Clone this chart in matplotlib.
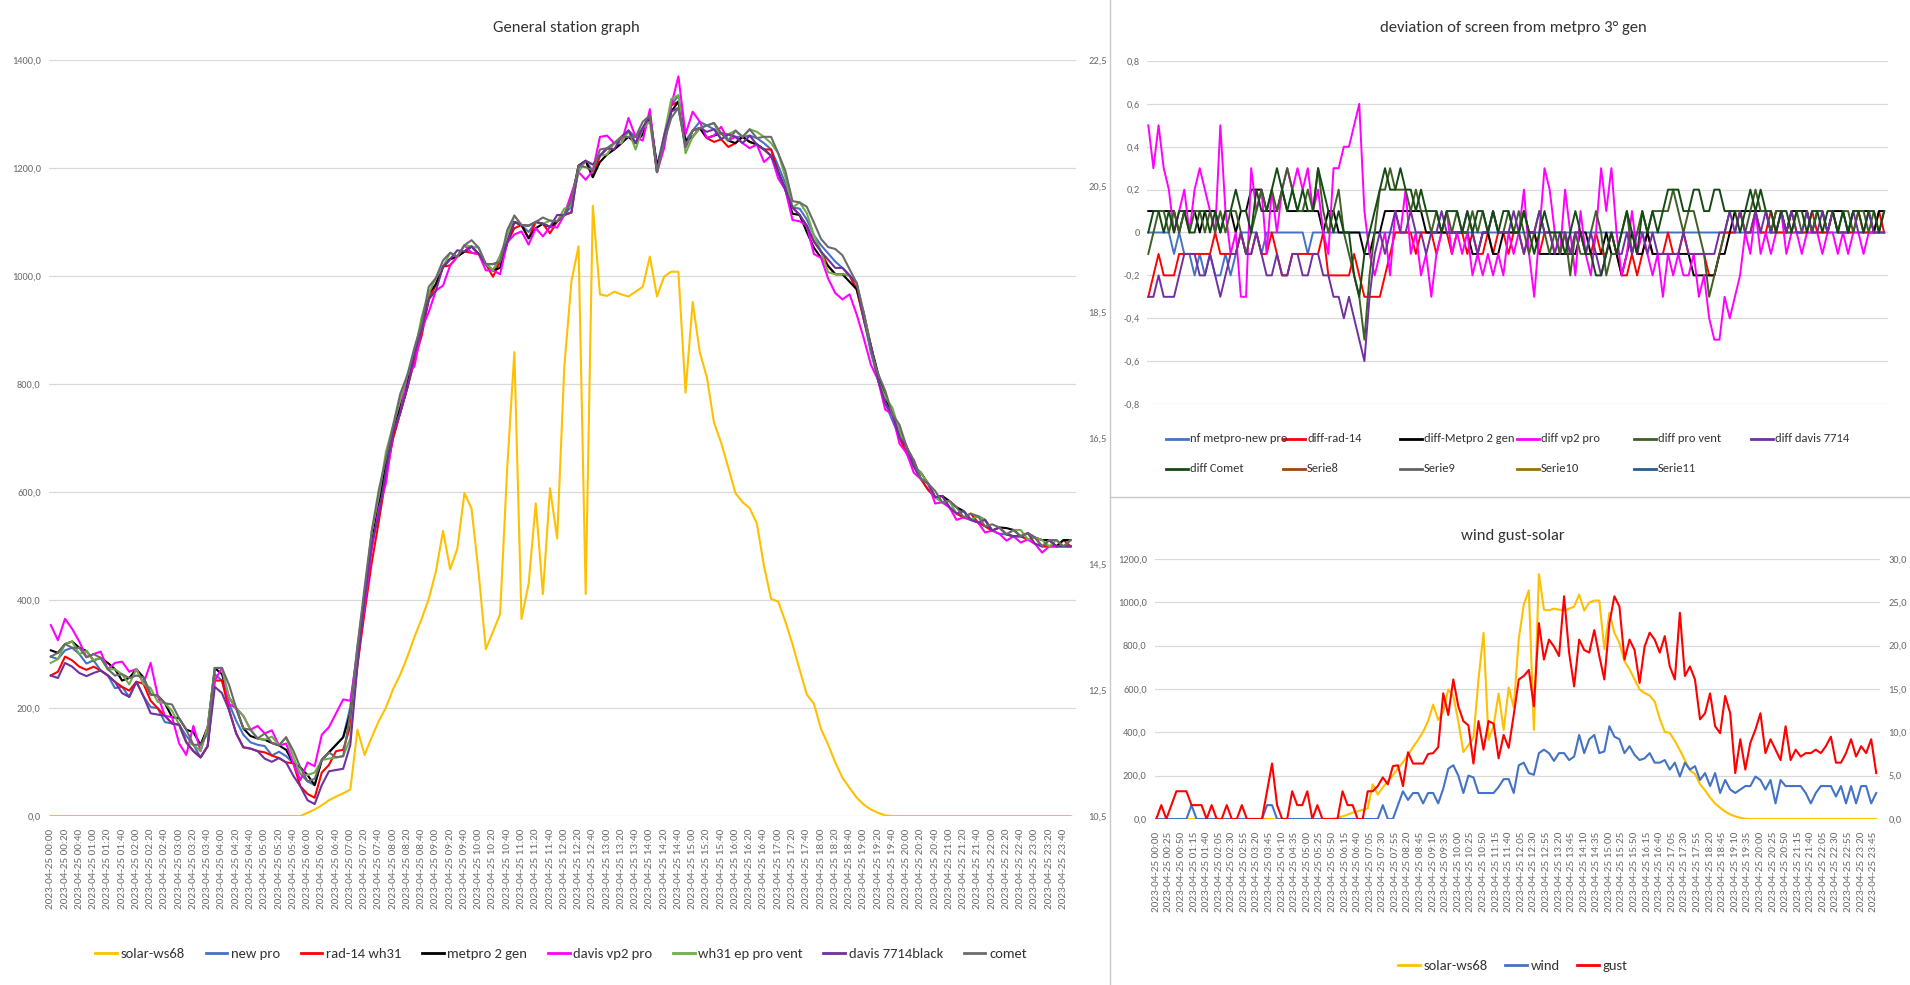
import matplotlib
matplotlib.use("Agg")
import matplotlib.pyplot as plt
import numpy as np
import pandas as pd
from matplotlib.lines import Line2D

plt.rcParams['font.family'] = ['Carlito', 'PT Sans Narrow', 'DejaVu Sans']

# 5-minute category axis, readings taken every 10 minutes
times = list(pd.date_range("2023-04-25 00:00", periods=288, freq="5min").strftime("%Y-%m-%d %H:%M"))
pos = np.arange(0, 288, 2)

# reference temperature (metpro 3 gen), degC
t_ref = [13.03, 12.99, 13.13, 13.17, 13.07, 13.02, 12.97, 12.91, 12.83, 12.73,
         12.65, 12.59, 12.73, 12.60, 12.43, 12.31, 12.19, 12.07, 11.95, 11.77,
         11.63, 11.43, 11.71, 12.75, 12.65, 12.28, 12.01, 11.79, 11.67, 11.63,
         11.61, 11.56, 11.52, 11.45, 11.34, 11.17, 11.05, 10.99, 11.39, 11.51,
         11.63, 11.75, 12.23, 13.19, 14.03, 14.82, 15.38, 15.98,
         16.50, 16.90, 17.30, 17.74, 18.22, 18.70, 18.94, 19.22, 19.34, 19.38,
         19.46, 19.54, 19.42, 19.26, 19.16, 19.30, 19.70, 19.93, 19.88, 19.77,
         19.93, 19.90, 19.85, 19.94, 20.04, 20.18, 20.82, 20.90, 20.74, 20.98,
         21.10, 21.18, 21.28, 21.38, 21.28, 21.42, 21.62, 20.82, 21.30, 21.78,
         21.94, 21.22, 21.38, 21.52, 21.46, 21.40, 21.34, 21.32,
         21.28, 21.28, 21.30, 21.26, 21.18, 21.08, 20.82, 20.54, 20.16, 20.14,
         19.97, 19.72, 19.56, 19.43, 19.30, 19.20, 19.08, 18.86, 18.38, 17.86,
         17.42, 17.05, 16.78, 16.51, 16.26, 16.05, 15.85, 15.68, 15.56, 15.48,
         15.40, 15.30, 15.24, 15.20, 15.16, 15.10, 15.03, 14.98, 14.97, 14.94,
         14.94, 14.89, 14.82, 14.78, 14.78, 14.78, 14.78, 14.78]

# deviations from reference, tenths of degC
dev_newpro = [0, 0, 0, 0, 0, -1, 0, -1, -1, -2,
              -1, -2, -1, -2, -2, -1, -2, -1, 0, 0,
              0, 0, -1, 0, 0, 0, 0, 0, 0, 0,
              0, -1, 0, 0, 0, 0, 0, 0, 0, 0,
              0, 0, 0, 0, 0, 0, 0, 0, 0, 0,
              0, 0, 0, 0, 0, 0, 0, 0, 0, 0,
              0, 0, 0, 0, 0, 0, 0, 0, 0, 0,
              0, 0, 0, 0, 0, 0, 0, 0, 0, 0,
              0, 0, 0, 0, 0, 0, 0, 0, 0, 0,
              0, 0, 0, 0, 0, 0, 0, 0, 0, 0,
              0, 0, 0, 0, 0, 0, 0, 0, 0, 0,
              0, 0, 0, 0, 0, 0, 0, 0, 0, 0,
              0, 0, 0, 0, 0, 0, 0, 0, 0, 0,
              0, 0, 0, 0, 0, 0, 0, 0, 0, 0,
              0, 0, 0, 0]
dev_rad14 = [-3, -2, -1, -2, -2, -2, -1, -1, -1, -1,
             -1, -1, -1, 0, -1, -1, -1, -1, 0, -1,
             -1, 0, -1, -1, 0, -1, -2, -2, -1, -1,
             -1, -1, -1, -1, 0, -2, -2, -2, -2, -2,
             -1, -2, -3, -3, -3, -3, -2, -1, 0, 0,
             0, 0, -1, 0, 0, 0, -1, 0, 0, -1,
             0, 0, -1, 0, -1, -1, 0, -1, 0, 0,
             -1, 0, 0, -1, 0, 0, -1, 0, 0, -1,
             -1, 0, -1, 0, 0, -1, -1, 0, -1, -1,
             0, -1, -2, -2, -1, -2, -1, 0, -1, -1,
             -1, 0, -1, -1, 0, -1, -1, -1, -1, -2,
             -2, -1, 0, 0, 0, 1, 0, 0, 1, 0,
             0, 1, 0, 0, 0, 1, 0, 0, 0, 1,
             0, 0, 0, 1, 0, 0, 0, 0, 1, 0,
             0, 0, 1, 0]
dev_metpro2 = [1, 1, 1, 1, 1, 1, 0, 1, 1, 1,
               0, 1, 1, 1, 0, 1, 1, 0, 1, 1,
               2, 2, 2, 1, 1, 1, 2, 1, 1, 1,
               1, 1, 1, 1, 0, 1, 1, 0, 0, 0,
               0, 0, -1, -1, 0, 0, 1, 1, 1, 1,
               1, 1, 1, 1, 0, 0, 0, 0, 0, 0,
               0, 0, 0, -1, -1, 0, 0, -1, -1, 0,
               0, 0, 0, 1, 0, 0, -1, -1, -1, -1,
               -1, -1, -1, -1, 0, 0, -1, -1, -1, 0,
               -1, -1, -2, -1, 0, -1, -1, 0, -1, -1,
               -1, -1, -1, -1, -1, -1, -2, -2, -2, -2,
               -2, -1, -1, 0, 1, 1, 1, 1, 1, 1,
               1, 0, 1, 1, 0, 1, 1, 1, 1, 0,
               1, 1, 0, 1, 1, 1, 0, 1, 1, 1,
               1, 0, 1, 1]
dev_vp2 = [5, 3, 5, 3, 2, 0, 1, 2, 0, 2,
           3, 2, 1, 0, 5, 1, -1, 0, -3, -3,
           3, 1, 2, -1, 2, 0, 2, 3, 2, 3,
           2, 3, 1, 2, 0, -1, 3, 3, 4, 4,
           5, 6, 1, -1, -2, -1, 0, -2, 1, 0,
           2, -1, 0, -2, -1, -3, -1, 0, 1, -1,
           0, -1, 0, -2, -1, -2, -1, -2, -1, -2,
           0, -1, 0, 2, -1, -3, 0, 3, 2, 0,
           -1, 2, 0, -2, 1, -1, -2, 0, 3, 1,
           3, 0, -2, -1, 1, -1, 0, -1, -2, -1,
           -3, -1, -2, -1, -2, -2, -1, -3, -2, -4,
           -5, -5, -3, -4, -3, -2, 0, -1, 1, -1,
           0, -1, 0, 1, -1, 0, 0, -1, 0, 0,
           0, -1, 0, 0, -1, 0, -1, 0, 0, -1,
           0, 0, 0, 0]
dev_provent = [-1, 0, 1, 1, 0, 1, 0, 1, 0, 1,
               1, 0, 1, 0, 1, 0, 1, 1, 0, -1,
               0, 1, 2, 1, 2, 1, 2, 3, 2, 1,
               1, 2, 1, 3, 1, 0, 1, 2, 0, -1,
               -2, -3, -5, -2, 0, 2, 2, 3, 2, 2,
               2, 1, 2, 1, 1, 0, 1, 0, 1, 0,
               1, 0, 0, 1, 0, 1, 0, 1, 0, 0,
               1, 0, 1, 0, -1, 0, 1, 0, -1, 0,
               -1, 0, -2, 0, -1, -1, 0, 1, 0, -2,
               -1, -1, 0, 1, -1, 0, 1, 0, 1, 1,
               1, 1, 2, 1, 0, 1, 1, 0, -1, -3,
               -2, -1, 0, 1, 1, 1, 0, 1, 2, 1,
               1, 0, 1, 1, 0, 0, 1, 0, 1, 0,
               1, 1, 0, 1, 0, 1, 1, 0, 1, 1,
               0, 1, 0, 1]
dev_7714 = [-3, -3, -2, -3, -3, -3, -2, -1, -1, -1,
            -2, -2, -1, -2, -3, -2, -1, -1, 0, -1,
            -1, 0, -1, -2, -2, -1, -2, -2, -1, -1,
            -2, -2, -1, -1, -2, -2, -3, -3, -4, -3,
            -4, -5, -6, -3, -1, 0, -1, 0, 1, 0,
            0, 1, 0, 0, -1, 0, 0, 1, 0, 0,
            0, 0, 1, 0, -1, 0, 0, 1, 0, 0,
            0, 1, 0, -1, 0, 0, 1, 0, 0, -1,
            0, 0, -1, 0, 0, -1, 0, -1, -2, -1,
            0, -1, -1, 0, -1, 0, 0, -1, 0, -1,
            -1, -1, -1, -1, 0, -1, -1, -1, -1, -1,
            -1, 0, 0, 1, 0, 1, 0, 0, 1, 0,
            1, 0, 0, 1, 0, 1, 0, 0, 1, 0,
            0, 1, 0, 1, 0, 0, 0, 1, 0, 0,
            1, 0, 0, 0]
dev_comet = [0, 1, 1, 0, 1, 0, 1, 1, 0, 0,
             1, 1, 0, 1, 0, 1, 1, 2, 1, 1,
             0, 2, 1, 1, 2, 3, 2, 1, 2, 1,
             2, 1, 1, 3, 2, 1, 0, 1, 0, 0,
             -2, -3, -1, 0, 1, 2, 3, 2, 2, 3,
             2, 2, 1, 2, 1, 1, 1, 0, 1, 1,
             1, 0, 1, 0, 1, 1, 0, 1, 0, 1,
             1, 0, 0, 1, 0, -1, 0, 1, 0, 0,
             0, -1, 0, 1, 0, -1, -1, -2, -2, -1,
             0, -1, 0, 1, 0, -1, 1, 0, 1, 0,
             1, 2, 2, 2, 1, 1, 2, 2, 1, 1,
             2, 2, 1, 1, 1, 0, 1, 2, 1, 2,
             1, 1, 0, 1, 1, 0, 1, 1, 0, 1,
             1, 0, 1, 1, 0, 1, 0, 1, 1, 0,
             1, 1, 0, 1]

# solar radiation W/m2
solar = [0, 0, 0, 0, 0, 0, 0, 0, 0, 0,
         0, 0, 0, 0, 0, 0, 0, 0, 0, 0,
         0, 0, 0, 0, 0, 0, 0, 0, 0, 0,
         0, 0, 0, 0, 0, 0,
         6, 12, 20, 29, 36, 42, 49, 160, 113, 146, 176, 201,
         235, 262, 295, 332, 365, 402, 453, 528, 457, 495,
         598, 569, 449, 309, 341, 374, 645, 859, 365, 430,
         579, 411, 607, 514, 831, 990, 1055, 411, 1130, 966,
         963, 971, 966, 962, 971, 980, 1036, 962, 999, 1008,
         1008, 784, 952, 859, 812, 728, 691, 645,
         598, 581, 570, 542, 463, 402, 397, 360, 318, 271,
         225, 208, 161, 132, 99, 71, 52, 34, 21, 12,
         6, 1,
         0, 0, 0, 0, 0, 0, 0, 0, 0, 0,
         0, 0, 0, 0, 0, 0, 0, 0, 0, 0,
         0, 0, 0, 0, 0, 0]

wind = [0, 0, 0, 0, 0, 0, 0, 1.6, 0, 0,
        0, 0, 0, 0, 0, 0, 0, 0, 0, 0,
        0, 0, 1.6, 1.6, 0, 0, 0, 0, 0, 0,
        0, 0, 0, 0, 0, 0, 0, 0, 0, 0,
        0, 0, 0, 0, 0, 1.6, 0, 0,
        1.6, 3.2, 2.2, 3.0, 3.0, 1.8, 3.0, 3.0, 1.8, 3.5,
        5.8, 6.2, 5.0, 3.0, 5.0, 4.8, 3.0, 3.0, 3.0, 3.0,
        3.7, 4.6, 4.6, 3.0, 6.2,
        6.5, 5.3, 5.1, 7.6, 8.0, 7.6, 6.7,
        7.6, 7.6, 6.8, 7.2, 9.7, 7.6, 9.2, 9.7, 7.6, 7.8,
        10.7, 9.5, 9.2, 7.6, 8.4, 7.4, 6.8, 7.0, 7.6, 6.5,
        6.5, 6.8, 5.7, 6.5, 4.9, 6.5, 5.7, 6.1, 4.5, 5.3,
        3.8, 5.3, 3.0, 4.5, 3.4, 3.0, 3.4, 3.8, 3.8, 4.9,
        4.5, 3.4, 4.5, 1.8, 4.5, 3.8, 3.8, 3.8, 3.8, 3.0,
        1.8, 3.0, 3.8, 3.8, 3.8, 2.6, 3.8, 1.8, 3.8, 1.8,
        3.8, 3.8, 1.8, 3.0]

gust = [0, 1.6, 0, 1.6, 3.2, 3.2, 3.2, 1.6, 1.6, 1.6,
        0, 1.6, 0, 0, 1.6, 0, 0, 1.6, 0, 0,
        0, 0, 3.2, 6.4, 1.6, 0, 0, 3.2, 1.6, 1.6,
        3.2, 0, 1.6, 0, 0, 0, 0, 3.2, 1.6, 1.6,
        0, 0, 3.2, 3.2, 3.8, 4.8, 4.0, 6.1, 6.2, 3.8,
        7.7, 6.4, 6.4, 6.4, 7.5, 7.6, 8.3, 14.5, 12.0, 16.1,
        13.0, 11.3, 10.8, 6.4, 11.3, 8.0, 11.3, 11.0, 7.0, 9.7,
        8.2, 12.0, 16.1,
        16.5, 17.2, 13.0, 22.6, 18.4, 20.7, 19.9,
        18.8, 25.7, 19.2, 15.3, 20.7, 19.5, 19.2, 21.8, 18.8, 16.1,
        22.6, 25.7, 24.5, 18.4, 20.7, 19.5, 15.7, 19.9, 21.5, 20.7,
        19.2, 21.1, 17.6, 16.1, 23.8, 16.5, 17.6, 16.1, 11.5, 12.2,
        14.5, 10.7, 9.9, 14.2, 12.2, 5.3, 9.2, 5.7, 8.8, 10.3,
        12.2, 7.6, 9.2, 8.0, 6.8, 10.7, 6.8, 8.0, 7.2, 7.6,
        7.6, 8.0, 7.6, 8.4, 9.5, 6.5, 6.5, 7.6, 9.2, 7.2,
        8.4, 7.6, 9.2, 5.3]

stations = ["new pro", "rad-14 wh31", "metpro 2 gen", "davis vp2 pro",
            "wh31 ep pro vent", "davis 7714black", "comet"]
station_colors = ["#4472C4", "#FF0000", "#000000", "#FF00FF", "#70AD47", "#7030A0", "#6B6B6B"]
devs = [dev_newpro, dev_rad14, dev_metpro2, dev_vp2, dev_provent, dev_7714, dev_comet]
dev_labels = ["nf metpro-new pro", "diff-rad-14", "diff-Metpro 2 gen", "diff vp2 pro",
              "diff pro vent", "diff davis 7714", "diff Comet"]
dev_colors = ["#4472C4", "#FF0000", "#000000", "#FF00FF", "#3F5F26", "#7030A0", "#144A14"]
empty_labels = ["Serie8", "Serie9", "Serie10", "Serie11"]
empty_colors = ["#9E480E", "#636363", "#997300", "#255E91"]

GREY = "#6B6B6B"
TXT = "#333333"
W, H = 1910.0, 985.0

fig = plt.figure(figsize=(19.10, 9.85), dpi=100)


def frame(x0, y0, x1, y1):
    return fig.add_axes([x0 / W, 1 - y1 / H, (x1 - x0) / W, (y1 - y0) / H])


def comma(v):
    return f"{v:.1f}".replace(".", ",")


def tidy(ax, grid=True):
    for s in ax.spines.values():
        s.set_visible(False)
    ax.tick_params(length=0, colors=GREY, labelsize=7.5)
    if grid:
        ax.grid(axis="y", color="#D9D9D9", lw=0.9)
        ax.set_axisbelow(True)


# ---------------- General station graph ----------------
ax1 = frame(49, 60, 1076, 816)
ax1b = ax1.twinx()
tidy(ax1)
tidy(ax1b, grid=False)
ax1.plot(pos, solar, color="#FFC000", lw=1.5, solid_joinstyle="round")
tref = np.array(t_ref)
for name, col, d in zip(stations, station_colors, devs):
    ax1b.plot(pos, tref + np.array(d) / 10.0, color=col, lw=1.5, solid_joinstyle="round")
ax1.set_xlim(-0.5, 287.5)
ax1.set_ylim(0, 1400)
ax1.set_yticks(range(0, 1401, 200))
ax1.set_yticklabels([comma(v) for v in range(0, 1401, 200)])
ax1.tick_params(axis="y", pad=6)
ax1b.set_ylim(10.5, 22.5)
ticks_r = np.arange(10.5, 22.6, 2)
ax1b.set_yticks(ticks_r)
ax1b.set_yticklabels([comma(v) for v in ticks_r])
ax1b.tick_params(axis="y", pad=9)
ax1.set_xticks(range(0, 288, 4))
ax1.set_xticklabels(times[::4], rotation=90, fontsize=8)
ax1.tick_params(axis="x", pad=9)

h1 = [Line2D([], [], color="#FFC000", lw=2)] + [Line2D([], [], color=c, lw=2) for c in station_colors]
fig.legend(h1, ["solar-ws68"] + stations, loc="center", bbox_to_anchor=(561 / W, 1 - 954 / H),
           ncol=8, frameon=False, fontsize=10.5, handlelength=1.5, handletextpad=0.25,
           columnspacing=1.4, labelcolor=TXT)
fig.text(566 / W, 1 - 28 / H, "General station graph", ha="center", va="center", fontsize=12, color=TXT)

# ---------------- deviation chart ----------------
ax2 = frame(1147, 61, 1888, 404)
tidy(ax2)
for lab, col, d in zip(dev_labels, dev_colors, devs):
    ax2.plot(pos, np.array(d) / 10.0, color=col, lw=1.4, solid_joinstyle="round")
ax2.set_xlim(-0.5, 287.5)
ax2.set_ylim(-0.8, 0.8)
ticks_d = np.round(np.arange(-0.8, 0.81, 0.2), 1)
ax2.set_yticks(ticks_d)
ax2.set_yticklabels(["0" if v == 0 else comma(v) for v in ticks_d])
ax2.tick_params(axis="y", pad=5)
ax2.set_xticks([])
fig.text(1513 / W, 1 - 28 / H, "deviation of screen from metpro 3° gen", ha="center", va="center",
         fontsize=12, color=TXT)

col_x = [1166, 1283, 1400, 1517, 1634, 1751]
row_y = [439, 469]
for n, (lab, col) in enumerate(zip(dev_labels + empty_labels, dev_colors + empty_colors)):
    r, c = divmod(n, 6)
    x, y = col_x[c], row_y[r]
    fig.add_artist(Line2D([x / W, (x + 22) / W], [1 - y / H] * 2, color=col, lw=2))
    fig.text((x + 24) / W, 1 - y / H, lab, fontsize=9, color=TXT, va="center")

# ---------------- wind gust-solar ----------------
ax3 = frame(1155, 559, 1880, 819)
ax3b = ax3.twinx()
tidy(ax3)
tidy(ax3b, grid=False)
ax3.plot(pos, solar, color="#FFC000", lw=1.5, solid_joinstyle="round")
ax3b.plot(pos, wind, color="#4472C4", lw=1.5, solid_joinstyle="round")
ax3b.plot(pos, gust, color="#FF0000", lw=1.5, solid_joinstyle="round")
ax3.set_xlim(-0.5, 287.5)
ax3.set_ylim(0, 1200)
ax3.set_yticks(range(0, 1201, 200))
ax3.set_yticklabels([comma(v) for v in range(0, 1201, 200)])
ax3.tick_params(axis="y", pad=6)
ax3b.set_ylim(0, 30)
ax3b.set_yticks(range(0, 31, 5))
ax3b.set_yticklabels([comma(v) for v in range(0, 31, 5)])
ax3b.tick_params(axis="y", pad=6)
ax3.set_xticks(range(0, 288, 5))
ax3.set_xticklabels(times[::5], rotation=90, fontsize=8)
ax3.tick_params(axis="x", pad=9)
h3 = [Line2D([], [], color=c, lw=2) for c in ["#FFC000", "#4472C4", "#FF0000"]]
fig.legend(h3, ["solar-ws68", "wind", "gust"], loc="center", bbox_to_anchor=(1513 / W, 1 - 966 / H),
           ncol=3, frameon=False, fontsize=10.5, handlelength=1.5, handletextpad=0.25,
           columnspacing=1.2, labelcolor=TXT)
fig.text(1513 / W, 1 - 536 / H, "wind gust-solar", ha="center", va="center", fontsize=12, color=TXT)

# panel borders of the screenshot
fig.add_artist(Line2D([1110 / W] * 2, [0, 1], color="#C8C8C8", lw=1))
fig.add_artist(Line2D([1110 / W, 1], [1 - 497 / H] * 2, color="#C8C8C8", lw=1))

fig.savefig("out.png", dpi=100)
